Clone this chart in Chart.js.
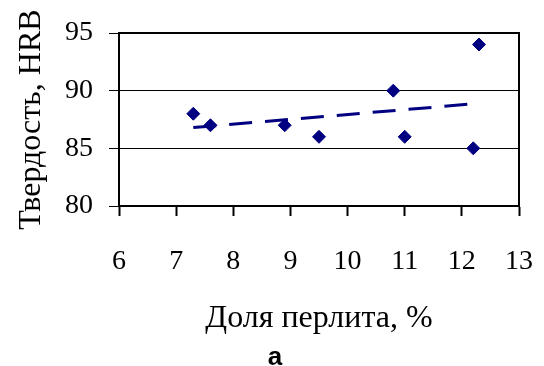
<!DOCTYPE html>
<html>
<head>
<meta charset="utf-8">
<script src="https://cdn.jsdelivr.net/npm/chart.js@4/dist/chart.umd.min.js"></script>
<style>
  html, body { margin: 0; padding: 0; background: #fff; }
  canvas { display: block; }
</style>
</head>
<body>
<canvas id="hardnessChart" width="544" height="366"></canvas>
<script>
// доля перлита, % и твердость, HRB
const pearliteShare = [7.3, 7.6, 8.9, 9.5, 10.8, 11.0, 12.2, 12.3];
const hardness = [88, 87, 87, 86, 90, 86, 85, 94];

// линейный тренд: концы линии
const trendShare = [7.3, 12.3];
const trendHardness = [86.8, 88.9];

// оси
const xRange = [6, 13];
const xStep = 1;
const yRange = [80, 95];
const yStep = 5;

const NAVY = "#000080";
const SERIF = "'Liberation Serif', 'Times New Roman', serif";

const toPoints = (xs, ys) => xs.map((x, i) => ({ x, y: ys[i] }));

// рамка вокруг области построения
const frame = {
  id: "frame",
  afterDatasetsDraw(chart) {
    const { ctx, chartArea: a } = chart;
    ctx.save();
    ctx.strokeStyle = "#000";
    ctx.lineWidth = 2;
    ctx.strokeRect(a.left, a.top, a.right - a.left, a.bottom - a.top);
    ctx.restore();
  },
};

// буква под рисунком
const caption = {
  id: "caption",
  afterDraw(chart) {
    const { ctx } = chart;
    ctx.save();
    ctx.font = "bold 26px 'Liberation Sans', Arial, sans-serif";
    ctx.fillStyle = "#000";
    ctx.textAlign = "center";
    ctx.textBaseline = "middle";
    ctx.fillText("а", 275, 358);
    ctx.restore();
  },
};

new Chart(document.getElementById("hardnessChart"), {
  type: "scatter",
  data: {
    datasets: [
      {
        label: "Твердость",
        data: toPoints(pearliteShare, hardness),
        pointStyle: "rectRot",
        pointRadius: 6.5,
        pointBackgroundColor: NAVY,
        pointBorderColor: NAVY,
        pointBorderWidth: 1,
        order: 1,
      },
      {
        type: "line",
        label: "Тренд",
        data: toPoints(trendShare, trendHardness),
        borderColor: NAVY,
        borderWidth: 3,
        borderDash: [23, 13],
        pointRadius: 0,
        fill: false,
        order: 2,
      },
    ],
  },
  options: {
    responsive: false,
    animation: false,
    layout: { padding: { top: 33, right: 25, left: 0, bottom: 0 } },
    plugins: {
      legend: { display: false },
      tooltip: { enabled: false },
    },
    scales: {
      x: {
        type: "linear",
        min: xRange[0],
        max: xRange[1],
        ticks: {
          stepSize: xStep,
          // small padding keeps the right edge; the tall line box drops the labels
          padding: 11,
          color: "#000",
          font: { family: SERIF, size: 28, lineHeight: 2.48 },
        },
        grid: {
          drawOnChartArea: false,
          tickLength: 10,
          tickWidth: 2,
          color: "#000",
        },
        border: { color: "#000", width: 2 },
        title: {
          display: true,
          text: "Доля перлита, %",
          color: "#000",
          font: { family: SERIF, size: 32 },
          padding: { top: 0, bottom: 28 },
        },
        afterFit: (s) => { s.height = 160; },
      },
      y: {
        type: "linear",
        min: yRange[0],
        max: yRange[1],
        ticks: {
          stepSize: yStep,
          padding: 16,
          color: "#000",
          font: { family: SERIF, size: 28 },
        },
        grid: {
          color: "#000",
          lineWidth: 1,
          tickLength: 10,
        },
        border: { color: "#000", width: 2 },
        title: {
          display: true,
          text: "Твердость, HRB",
          color: "#000",
          font: { family: SERIF, size: 32 },
          padding: { top: 12, bottom: 0 },
        },
        afterFit: (s) => { s.width = 119; },
      },
    },
  },
  plugins: [frame, caption],
});
</script>
</body>
</html>
